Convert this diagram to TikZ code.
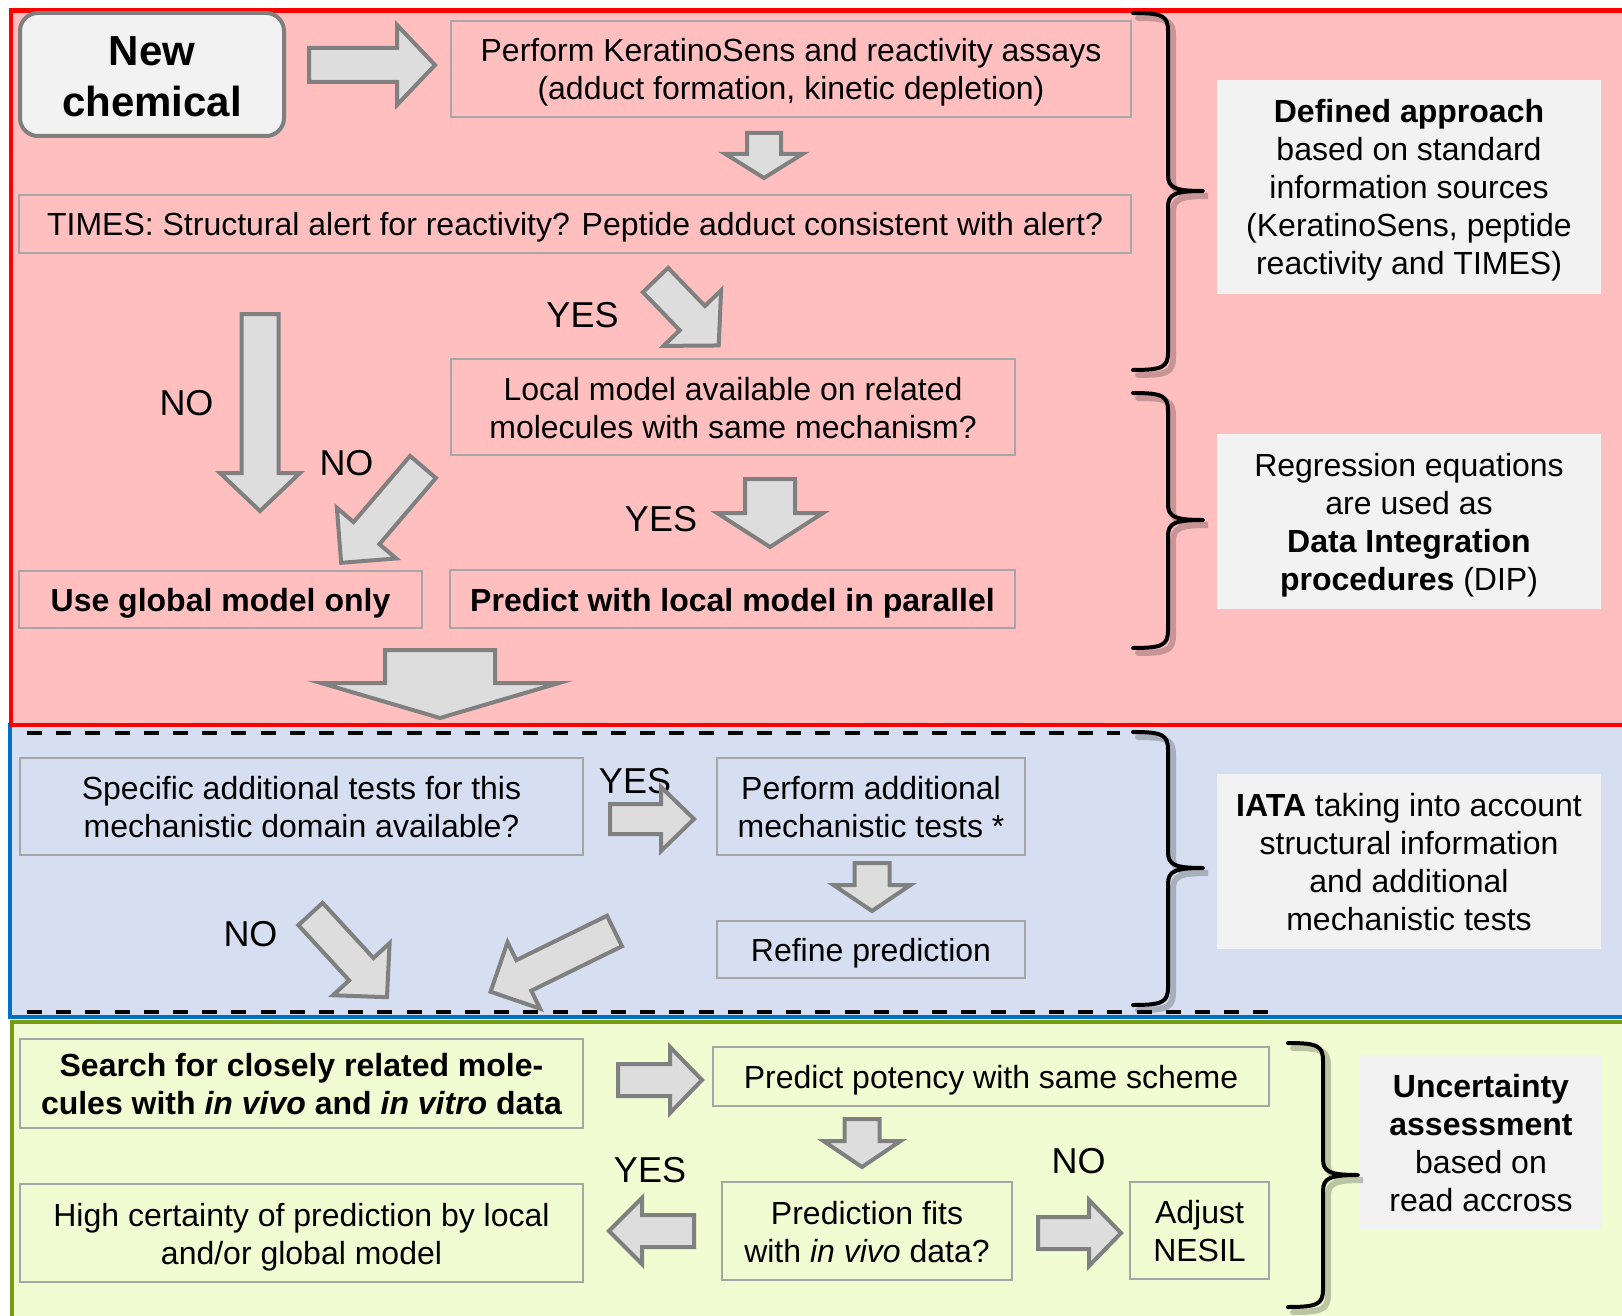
\documentclass[tikz,border=0pt]{standalone}
\usepackage{fontspec}
\setmainfont{Liberation Sans}
\usetikzlibrary{calc,positioning}

\definecolor{boxgray}{RGB}{166,166,166}
\definecolor{startgray}{RGB}{127,127,127}
\definecolor{infogray}{RGB}{242,242,242}
\definecolor{arrowline}{RGB}{128,128,128}
\definecolor{arrowfill}{RGB}{221,221,221}
\definecolor{panelred}{RGB}{255,0,0}
\definecolor{fillred}{RGB}{255,191,191}
\definecolor{panelblue}{RGB}{0,112,192}
\definecolor{fillblue}{RGB}{214,223,242}
\definecolor{panelgreen}{RGB}{120,155,20}
\definecolor{fillgreen}{RGB}{242,252,210}

\newcommand{\bodyfont}{\fontsize{16}{19}\selectfont}
\newcommand{\labelfont}{\fontsize{18}{21}\selectfont}
\newcommand{\titlefont}{\fontsize{21}{25.5}\selectfont\bfseries}

\tikzset{
  lines/.code={\pgfmathsetlengthmacro\boxtextht{15.5pt+(#1-1)*19pt}\pgfkeysalso{text height=\boxtextht, text depth=3.5pt}},
  flowbox/.style={draw=boxgray, line width=1pt, align=center, inner sep=0pt, font=\bodyfont, lines=1},
  infobox/.style={fill=infogray, align=center, inner sep=0pt, font=\bodyfont},
  startbox/.style={draw=startgray, fill=infogray, line width=2pt, rounded corners=9pt, align=center, inner sep=0pt, font=\titlefont, text height=42pt, text depth=0pt},
  wh/.style 2 args={minimum width=#1*0.5pt, minimum height=#2*0.5pt},
  yesno/.style={anchor=base, inner sep=0pt, font=\labelfont},
  blockarr/.style={draw=arrowline, fill=arrowfill, line width=2pt, line join=miter},
  sidebrace/.style={line width=2pt, line cap=round, line join=round},
  braceshadow/.style={line width=3pt, draw=black, opacity=0.22, line cap=round},
  dashline/.style={line width=2pt, dash pattern=on 7.5pt off 7.1pt},
}

\begin{document}
\begin{tikzpicture}[x=0.5pt, y=-0.5pt]
\path[use as bounding box, clip] (0,0) rectangle (1622,1316);

% panels
\draw[draw=panelgreen, line width=2pt, fill=fillgreen] (12,1022) rectangle (1650,1340);
\draw[draw=panelblue, line width=2pt, fill=fillblue] (10,725) rectangle (1650,1017);
\draw[draw=panelred, line width=2.2pt, fill=fillred] (11,10.5) rectangle (1650,725);
\draw[dashline] (27,732.5) -- (1120,732.5);
\draw[dashline] (27,1012) -- (1268,1012);

% red part
\node[startbox, wh={264}{123}] (newchem) at (152,74.5) {New\\chemical};
\node[flowbox, wh={680}{96}, lines=2] (assays) at (791,69) {Perform KeratinoSens and reactivity assays\\(adduct formation, kinetic depletion)};
\node[flowbox, wh={1112}{58}] (times) at (575,224) {TIMES: Structural alert for reactivity? Peptide adduct consistent with alert?};
\node[flowbox, wh={564}{96}, lines=2] (localq) at (733,407) {Local model available on related\\molecules with same mechanism?};
\node[flowbox, wh={403}{57}, font=\bodyfont\bfseries] (global) at (220.5,599.5) {Use global model only};
\node[flowbox, wh={565}{58}, font=\bodyfont\bfseries] (parallel) at (732.5,599) {Predict with local model in parallel};
\node[infobox, wh={384}{214}, lines=5] (defined) at (1409,187) {\textbf{Defined approach}\\based on standard\\information sources\\(KeratinoSens, peptide\\reactivity and TIMES)};
\node[infobox, wh={384}{175}, lines=4] (dip) at (1409,521.5) {Regression equations\\are used as\\\textbf{Data Integration}\\\textbf{procedures} (DIP)};
\node[yesno] (yes1) at (582.5,328) {YES};
\node[yesno] (no1) at (186.5,415) {NO};
\node[yesno] (no2) at (346.5,475) {NO};
\node[yesno] (yes2) at (661,531) {YES};

% blue part
\node[flowbox, wh={563}{97}, lines=2] (specific) at (301.5,806.5) {Specific additional tests for this\\mechanistic domain available?};
\node[flowbox, wh={308}{97}, lines=2] (addtests) at (871,806.5) {Perform additional\\mechanistic tests *};
\node[flowbox, wh={308}{57}] (refine) at (871,949.5) {Refine prediction};
\node[infobox, wh={384}{175}, lines=4] (iata) at (1409,861.5) {\textbf{IATA} taking into account\\structural information\\and additional\\mechanistic tests};
\node[yesno] (yes3) at (635,793) {YES};
\node[yesno] (no3) at (250.5,946) {NO};

% green part
\node[flowbox, wh={563}{89}, lines=2, font=\bodyfont\bfseries] (search) at (301.5,1083.5) {Search for closely related mole-\\cules with \textit{in vivo} and \textit{in vitro} data};
\node[flowbox, wh={556}{59}] (potency) at (991,1076.5) {Predict potency with same scheme};
\node[flowbox, wh={290}{98}, lines=2] (fits) at (867,1231) {Prediction fits\\with \textit{in vivo} data?};
\node[flowbox, wh={563}{98}, lines=2] (certain) at (301.5,1233) {High certainty of prediction by local\\and/or global model};
\node[flowbox, wh={139}{97}, lines=2] (nesil) at (1199.5,1230.5) {Adjust\\NESIL};
\node[infobox, wh={242}{174}, lines=4] (uncert) at (1481,1142) {\textbf{Uncertainty}\\\textbf{assessment}\\based on\\read accross};
\node[yesno] (yes4) at (650,1182) {YES};
\node[yesno] (no4) at (1078.5,1173) {NO};

% block arrows: start, angle, length, shaft, head width, head length
\foreach \ax/\ay/\ang/\len/\sw/\hw/\hl in {309/65/0/126/34/80/38, 764/133/-90/45/34/77/24,
  655.5/280/-46/91/35/80/38, 260/314/-90/197/37/80/38, 423/467/-130.5/126/34/78/39,
  770/479/-90/68/50/106/34, 440/650/-90/68/110/238/35, 610/819/0/84/30/64/33,
  872/863/-90/48/35/77/26, 310.5/914/-47.4/113/33/77/38, 614.5/931/-153.9/138/34/74/37,
  618/1080/0/84/32/66/32, 862/1119/-90/48/35/77/26, 694/1231/180/85/32/66/33,
  1038/1233/0/83/32/66/32}{
  \draw[blockarr, shift={(\ax,\ay)}, rotate=\ang] (0,-\sw/2) -- (\len-\hl,-\sw/2) -- (\len-\hl,-\hw/2)
    -- (\len,0) -- (\len-\hl,\hw/2) -- (\len-\hl,\sw/2) -- (0,\sw/2) -- cycle;
}

% braces: x, top, middle, bottom
\foreach \bx/\bt/\bm/\bb in {1133/13/191/370, 1133/393/520/648, 1133/732/868/1005, 1288/1043/1175/1307}{
  \foreach \sh/\st in {5/braceshadow, 0/sidebrace}{
    \draw[\st, shift={(\sh,\sh)}] (\bx,\bt) .. controls (\bx+30,\bt) and (\bx+35,\bt+3) .. (\bx+35,\bt+18)
      -- (\bx+35,\bm-16) .. controls (\bx+35,\bm-3) and (\bx+42,\bm) .. (\bx+70,\bm)
      .. controls (\bx+42,\bm) and (\bx+35,\bm+3) .. (\bx+35,\bm+16)
      -- (\bx+35,\bb-18) .. controls (\bx+35,\bb-3) and (\bx+30,\bb) .. (\bx,\bb);
  }
}
\end{tikzpicture}
\end{document}
